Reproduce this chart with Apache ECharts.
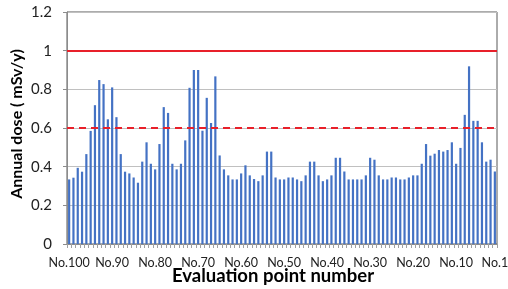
<!DOCTYPE html>
<html><head><meta charset="utf-8">
<script src="https://cdn.jsdelivr.net/npm/echarts@6/dist/echarts.min.js"></script>
<style>html,body{margin:0;padding:0;background:#fff}#c{width:508px;height:289px}</style>
</head><body><div id="c"></div>
<script>
// categories No.100 ... No.1
const categories = [];
for (let n = 100; n >= 1; n--) categories.push('No.' + n);
const doses = [
0.334,0.343,0.394,0.374,0.465,0.585,0.718,0.848,0.827,0.645,
0.810,0.656,0.465,0.374,0.365,0.344,0.317,0.426,0.526,0.415,
0.386,0.517,0.708,0.678,0.415,0.386,0.415,0.536,0.808,0.900,
0.900,0.586,0.756,0.626,0.867,0.458,0.386,0.355,0.334,0.334,
0.365,0.407,0.355,0.336,0.325,0.355,0.478,0.478,0.344,0.334,
0.334,0.344,0.344,0.334,0.325,0.355,0.426,0.426,0.355,0.325,
0.334,0.355,0.446,0.446,0.375,0.334,0.334,0.334,0.334,0.355,
0.446,0.436,0.355,0.334,0.334,0.344,0.344,0.334,0.334,0.344,
0.355,0.355,0.415,0.517,0.457,0.467,0.486,0.478,0.486,0.526,
0.415,0.497,0.668,0.919,0.637,0.637,0.526,0.426,0.436,0.375
];
const yTicks = [0, 0.2, 0.4, 0.6, 0.8, 1, 1.2];
const limitSolid = 1.0;
const limitDashed = 0.6;

const FONT = 'Lato';
const chart = echarts.init(document.getElementById('c'), null, {renderer: 'canvas'});
chart.setOption({
  animation: false,
  grid: {left: 67, right: 11, top: 12, bottom: 45, containLabel: false, outerBoundsMode: 'none',
         show: true, borderColor: '#595959', borderWidth: 1},
  xAxis: {
    type: 'category', data: categories, boundaryGap: true,
    name: 'Evaluation point number', nameLocation: 'middle', nameGap: 23, nameMoveOverlap: false,
    nameTextStyle: {fontFamily: FONT, fontWeight: 'bold', fontSize: 18.5, color: '#000', padding: [0, 18, 0, 0]},
    axisLine: {lineStyle: {color: '#8c8c8c'}},
    axisTick: {show: true, interval: 0, length: 4, lineStyle: {color: '#a0a0a0'}},
    axisLabel: {
      interval: function (i) { return i % 10 === 0 || i === 99; },
      fontFamily: FONT, fontSize: 12.5, color: '#222', margin: 12, hideOverlap: false
    }
  },
  yAxis: {
    type: 'value', min: 0, max: 1.2, interval: 0.2,
    name: 'Annual dose ( mSv/y)', nameLocation: 'middle', nameGap: 42, nameMoveOverlap: false,
    nameTextStyle: {fontFamily: FONT, fontWeight: 'bold', fontSize: 16, color: '#000', padding: [0, 0, 0, 8]},
    axisLine: {show: true, lineStyle: {color: '#8c8c8c'}},
    axisTick: {show: true, length: 4, lineStyle: {color: '#8c8c8c'}},
    splitLine: {show: true, lineStyle: {color: '#c0c0c0', width: 1}},
    axisLabel: {
      fontFamily: FONT, fontSize: 15, color: '#222', margin: 15,
      formatter: function (v) { return yTicks.indexOf(Math.round(v*10)/10) >= 0 ? String(Math.round(v*10)/10) : ''; }
    }
  },
  series: [{
    type: 'bar', data: doses, barWidth: 2.2,
    itemStyle: {color: '#4472C4'},
    markLine: {
      silent: true, symbol: 'none', label: {show: false},
      data: [
        {yAxis: limitSolid, lineStyle: {color: '#e8202a', width: 2, type: 'solid'}},
        {yAxis: limitDashed, lineStyle: {color: '#e8202a', width: 2, type: [7, 5]}}
      ]
    }
  }]
});
</script></body></html>
